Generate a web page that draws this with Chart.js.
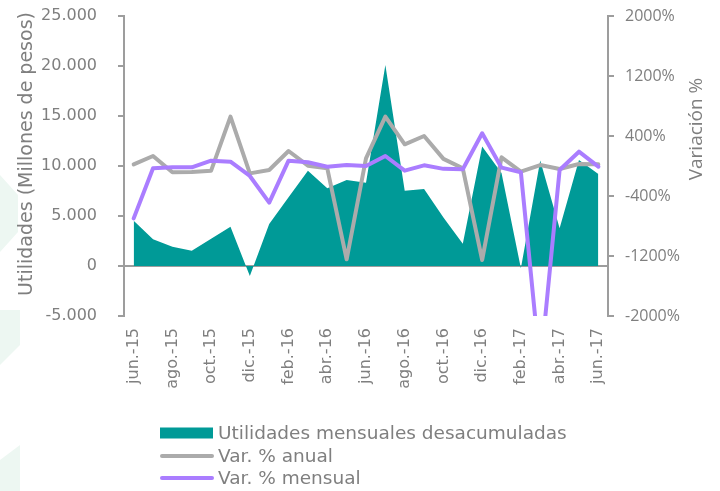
<!DOCTYPE html>
<html>
<head>
<meta charset="utf-8">
<script src="https://cdn.jsdelivr.net/npm/chart.js@4"></script>
<style>
  body { margin: 0; background: #fff; }
  #wrap { width: 720px; height: 491px; position: relative; }
</style>
</head>
<body>
<div id="wrap"><canvas id="chart"></canvas></div>
<script>
// data
const meses = ["jun.-15", "jul.-15", "ago.-15", "sep.-15", "oct.-15", "nov.-15", "dic.-15",
  "ene.-16", "feb.-16", "mar.-16", "abr.-16", "may.-16", "jun.-16", "jul.-16", "ago.-16",
  "sep.-16", "oct.-16", "nov.-16", "dic.-16", "ene.-17", "feb.-17", "mar.-17", "abr.-17",
  "may.-17", "jun.-17"];
const utilidades = [4530, 2670, 1930, 1530, 2730, 3930, -1000, 4200, 6870, 9530, 7770, 8600,
  8330, 20100, 7530, 7700, 4850, 2230, 11950, 9300, -230, 10550, 3770, 10600, 9200];
const varAnual = [22, 133, -84, -80, -62, 658, -98, -53, 200, 4, -31, -1244, 102, 658, 289,
  400, 95, -31, -1253, 116, -76, 13, -40, 27, 22];
const varMensual = [-698, -31, -18, -18, 71, 58, -133, -489, 71, 49, -9, 13, 0, 133, -62, 9,
  -38, -44, 436, -22, -84, -2700, -53, 191, -9];
const ticksIzq = [-5000, 0, 5000, 10000, 15000, 20000, 25000];
const ticksDer = [-2000, -1200, -400, 400, 1200, 2000];

const gris = "#7f7f7f";
const ejeGris = "#9d9d9d";
const teal = "#009a97";
const grisLinea = "#ababab";
const morado = "#aa7dff";

function miles(v) {
  const s = String(Math.abs(v)).replace(/\B(?=(\d{3})+(?!\d))/g, ".");
  return (v < 0 ? "-" : "") + s;
}

// faint slide decoration on the left edge
const fondo = {
  id: "fondo",
  beforeDraw(chart) {
    const ctx = chart.ctx;
    ctx.save();
    ctx.fillStyle = "#edf7f2";
    [
      [[0, 175], [18, 195], [18, 232], [0, 252]],
      [[0, 310], [20, 310], [20, 345], [0, 365]],
      [[0, 460], [20, 445], [20, 491], [0, 491]]
    ].forEach(p => {
      ctx.beginPath();
      ctx.moveTo(p[0][0], p[0][1]);
      p.slice(1).forEach(q => ctx.lineTo(q[0], q[1]));
      ctx.closePath();
      ctx.fill();
    });
    ctx.restore();
  }
};

// axis titles + legend drawn by hand (positions like the excel chart)
const extras = {
  id: "extras",
  afterDraw(chart) {
    const ctx = chart.ctx;
    ctx.save();
    ctx.fillStyle = gris;
    ctx.textBaseline = "middle";
    ctx.textAlign = "center";

    ctx.save();
    ctx.translate(27, 154);
    ctx.rotate(-Math.PI / 2);
    ctx.font = "19px 'DejaVu Sans'";
    ctx.fillText("Utilidades (Millones de pesos)", 0, 0);
    ctx.restore();

    ctx.save();
    ctx.translate(697, 129);
    ctx.rotate(-Math.PI / 2);
    ctx.font = "19px 'Open Sans'";
    ctx.fillText("Variación %", 0, 0);
    ctx.restore();

    // legend
    const rows = [433, 456, 478];
    ctx.textAlign = "left";
    ctx.font = "18.5px 'DejaVu Sans'";
    chart.data.datasets.forEach((ds, i) => {
      const y = rows[i];
      if (ds.fill) {
        ctx.fillStyle = ds.backgroundColor;
        ctx.fillRect(160, y - 5.5, 53, 11);
      } else {
        ctx.strokeStyle = ds.borderColor;
        ctx.lineWidth = 4;
        ctx.lineCap = "round";
        ctx.beginPath();
        ctx.moveTo(162, y);
        ctx.lineTo(212, y);
        ctx.stroke();
      }
      ctx.fillStyle = gris;
      ctx.fillText(ds.label, 218, y + 1);
    });
    ctx.restore();
  }
};

function ajusteY(ancho) {
  return function (scale) {
    scale.width = ancho;
    scale.paddingTop = 0;
    scale.paddingBottom = 0;
  };
}

new Chart(document.getElementById("chart"), {
  type: "line",
  data: {
    labels: meses,
    datasets: [
      {
        label: "Utilidades mensuales desacumuladas",
        data: utilidades,
        yAxisID: "y",
        fill: "origin",
        backgroundColor: teal,
        borderWidth: 0,
        pointRadius: 0,
        order: 3
      },
      {
        label: "Var. % anual",
        data: varAnual,
        yAxisID: "y2",
        fill: false,
        borderColor: grisLinea,
        borderWidth: 4,
        borderJoinStyle: "round",
        borderCapStyle: "round",
        pointRadius: 0,
        order: 2
      },
      {
        label: "Var. % mensual",
        data: varMensual,
        yAxisID: "y2",
        fill: false,
        borderColor: morado,
        borderWidth: 4,
        borderJoinStyle: "round",
        borderCapStyle: "round",
        pointRadius: 0,
        order: 1
      }
    ]
  },
  options: {
    responsive: true,
    maintainAspectRatio: false,
    animation: false,
    layout: { padding: { top: 16, bottom: 95, left: 0, right: 0 } },
    plugins: {
      legend: { display: false },
      tooltip: { enabled: false }
    },
    scales: {
      x: {
        offset: true,
        grid: { display: false, drawTicks: false },
        border: { display: false },
        ticks: {
          color: gris,
          font: { family: "DejaVu Sans", size: 16 },
          minRotation: 90,
          maxRotation: 90,
          autoSkip: false,
          padding: 12,
          callback: (v, i) => (i % 2 === 0 ? meses[i] : "")
        },
        afterFit(scale) { scale.height = 80; }
      },
      y: {
        position: "left",
        min: -5000,
        max: 25000,
        afterBuildTicks(scale) { scale.ticks = ticksIzq.map(v => ({ value: v })); },
        afterFit: ajusteY(124),
        grid: {
          color: c => (c.tick && c.tick.value === 0 ? ejeGris : "rgba(0,0,0,0)"),
          lineWidth: 2,
          tickColor: ejeGris,
          tickLength: 6
        },
        border: { display: true, color: ejeGris, width: 2 },
        ticks: {
          color: gris,
          padding: 21,
          font: { family: "DejaVu Sans", size: 16 },
          callback: v => miles(v)
        }
      },
      y2: {
        position: "right",
        min: -2000,
        max: 2000,
        afterBuildTicks(scale) { scale.ticks = ticksDer.map(v => ({ value: v })); },
        afterFit: ajusteY(112),
        grid: {
          drawOnChartArea: false,
          lineWidth: 2,
          tickColor: ejeGris,
          tickLength: 6
        },
        border: { display: true, color: ejeGris, width: 2 },
        ticks: {
          color: gris,
          padding: 11,
          font: { family: "Open Sans", size: 16 },
          callback: v => v + "%"
        }
      }
    }
  },
  plugins: [fondo, extras]
});
</script>
</body>
</html>
